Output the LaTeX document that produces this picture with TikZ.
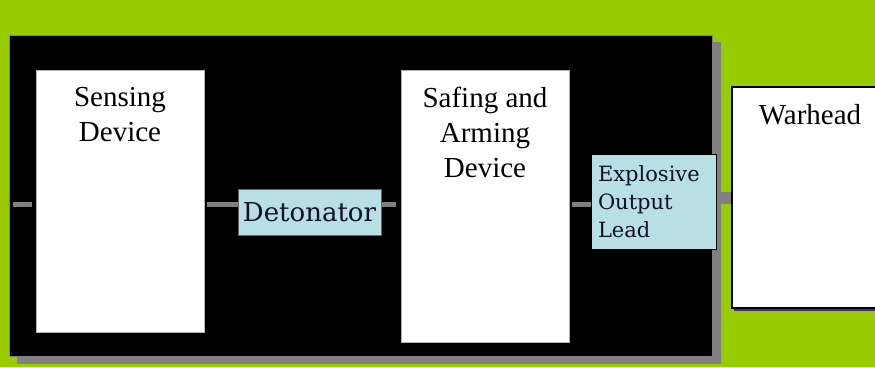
\documentclass[tikz,border=0pt]{standalone}
\usepackage{fontspec}
\setmainfont{Liberation Serif}
\newfontfamily\leadfont{DejaVu Serif}
\usetikzlibrary{positioning,backgrounds,shadows}
\definecolor{leafgreen}{RGB}{153,204,0}
\definecolor{paleblue}{RGB}{183,223,228}
\definecolor{linkgray}{RGB}{128,128,128}
\definecolor{inkblue}{RGB}{15,15,40}

\begin{document}
\begin{tikzpicture}[
    x=1pt, y=-1pt,
    font=\fontsize{29}{35}\selectfont,
    device/.style={
		rectangle,
		draw=gray!60,
		line width=0.6pt,
		fill=white,
		inner sep=0pt,
		minimum width=168pt
	},
	devtext/.style={
		anchor=north,
		align=center,
		inner sep=0pt
	},
	part/.style={
		rectangle,
		draw=gray!80!black,
		line width=0.6pt,
		fill=paleblue,
		text=inkblue,
		inner sep=0pt
	},
	link/.style={
		draw=linkgray,
		line width=5pt
	}
  ]
  \useasboundingbox (0,0) rectangle (875,367);
  \clip (0,0) rectangle (875,367);

  % the green page and the black panel with its shadow
  \begin{scope}[on background layer]
    \fill [leafgreen] (0,0) rectangle (875,367);
    \fill [linkgray] (17,42) rectangle (721,364);
    \filldraw [fill=black, draw=linkgray, line width=0.8pt] (9,35) rectangle (712,356);
  \end{scope}

  % We start by placing the blocks
  \node [device, minimum height=262pt,
    label={[devtext, yshift=-17pt]north:Sensing\\Device}] (sensing) at (120,201) {};

  \node [part, minimum width=143pt, minimum height=46pt,
    font=\leadfont\fontsize{26}{30}\selectfont] (detonator) at (309.5,212) {Detonator};

  \node [device, minimum height=272pt,
    label={[devtext, yshift=-17pt]north:Safing and\\Arming\\Device}] (safing) at (485,206) {};

  \node [part, draw=black, minimum width=125pt, minimum height=95pt,
    text width=111pt, inner xsep=7pt, align=left,
    font=\leadfont\fontsize{21}{28}\selectfont] (output) at (653.5,201.5)
    {Explosive\\Output\\Lead};

  \node [device, draw=black, line width=1.5pt, minimum width=156pt, minimum height=221pt,
    drop shadow={shadow xshift=2pt, shadow yshift=-2.5pt, fill=gray!60!blue!70!black, opacity=1},
    label={[devtext, yshift=-18pt]north:Warhead}] (warhead) at (810,197.5) {};

  % links between the blocks
  \begin{scope}[on background layer]
    \coordinate (in) at (13,204);
    \draw [link, shorten >=4pt] (in) -- (in -| sensing.west);
    \draw [link, shorten <=3pt] (in -| sensing.east) -- (in -| detonator.west);
    \draw [link, shorten >=5pt] (in -| detonator.east) -- (in -| safing.west);
    \draw [link, shorten <=3pt] (in -| safing.east) -- (in -| output.west);
    \draw [link, line width=12pt] (output.east |- warhead.west) -- (warhead.west);
  \end{scope}

\end{tikzpicture}
\end{document}
